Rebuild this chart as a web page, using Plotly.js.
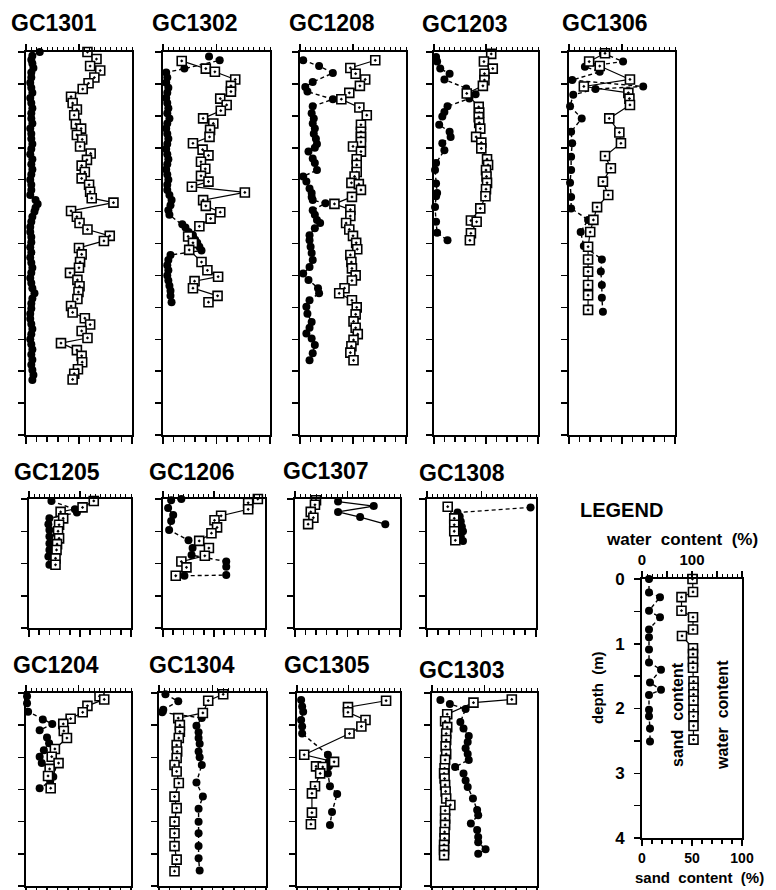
<!DOCTYPE html>
<html><head><meta charset="utf-8">
<script src="https://cdn.plot.ly/plotly-3.0.1.min.js"></script>
<style>html,body{margin:0;padding:0;background:#fff}#chart{width:776px;height:890px}</style>
</head><body><div id="chart"></div>
<script>
// ---- data: depth (m), water content (%), sand content (%) ----
const GC1301_wd=[0.00,0.11,0.22,0.29,0.40,0.49,0.58,0.70,0.80,0.90,0.99,1.13,1.20,1.30,1.37,1.48,1.59,1.69,1.78,1.88,1.98,2.08,2.19,2.29,2.36,2.49,2.58,2.68,2.78,2.88,2.96,3.07,3.17,3.29,3.38,3.46,3.57,3.67,3.76,3.87,3.98,4.08,4.17,4.27,4.37,4.48,4.56,4.67,4.76,4.86,4.97,5.04,5.13];
const GC1301_w=[116,133,121,140,129,118,107,85,88,96,91,94,104,96,106,102,122,115,105,111,105,119,121,124,165,85,96,101,116,158,147,100,105,102,100,83,97,101,99,97,85,88,111,121,105,116,66,96,105,106,98,91,88];
const GC1301_sd=[0.00,0.06,0.12,0.18,0.25,0.32,0.40,0.48,0.56,0.64,0.72,0.80,0.88,0.96,1.04,1.12,1.20,1.28,1.36,1.44,1.52,1.60,1.68,1.76,1.84,1.92,2.00,2.08,2.16,2.24,2.32,2.38,2.44,2.50,2.58,2.66,2.74,2.82,2.90,2.98,3.06,3.14,3.22,3.30,3.38,3.46,3.54,3.62,3.70,3.78,3.86,3.94,4.02,4.10,4.18,4.26,4.34,4.42,4.50,4.58,4.66,4.74,4.82,4.90,4.98,5.06,5.14];
const GC1301_s=[13,6,5,6,7,5,5,4,5,6,4,5,6,5,5,6,4,5,5,6,5,4,6,5,6,5,4,5,5,4,9,11,9,8,6,5,4,4,5,5,4,5,4,5,6,5,4,5,6,8,6,5,5,4,4,5,6,5,4,5,6,5,6,5,6,7,6];

const GC1302_wd=[0.14,0.26,0.31,0.43,0.53,0.62,0.73,0.83,0.92,1.04,1.12,1.22,1.33,1.43,1.53,1.62,1.72,1.83,1.94,2.03,2.11,2.20,2.32,2.41,2.51,2.61,2.73,2.89,2.99,3.10,3.29,3.42,3.52,3.59,3.70,3.82,3.92];
const GC1302_w=[35,80,97,135,127,127,107,119,108,75,94,88,87,56,74,85,71,79,71,85,54,153,75,80,107,89,68,47,56,49,72,83,103,59,56,102,85];
const GC1302_sd=[0.07,0.13,0.26,0.32,0.40,0.48,0.56,0.64,0.72,0.80,0.88,0.96,1.04,1.12,1.20,1.28,1.36,1.44,1.52,1.60,1.68,1.76,1.84,1.92,2.00,2.08,2.16,2.24,2.32,2.40,2.48,2.55,2.70,2.75,2.82,2.87,2.94,2.99,3.05,3.11,3.18,3.26,3.34,3.42,3.50,3.58,3.66,3.74,3.82,3.92];
const GC1302_s=[43,53,20,3,4,3,5,4,3,4,5,4,6,4,3,4,5,4,3,4,5,4,3,4,5,4,4,6,8,7,5,6,18,21,24,28,30,32,34,36,7,5,4,5,4,5,6,7,7,8];

const GC1208_wd=[0.13,0.25,0.34,0.43,0.53,0.64,0.74,0.87,0.99,1.14,1.25,1.33,1.41,1.48,1.56,1.68,1.77,1.88,1.95,2.05,2.07,2.16,2.27,2.38,2.47,2.57,2.68,2.78,2.88,2.99,3.09,3.18,3.29,3.39,3.50,3.58,3.70,3.78,3.89,4.00,4.11,4.22,4.32,4.42,4.51,4.61,4.71,4.83];
const GC1208_w=[142,95,105,123,113,93,78,112,126,115,115,115,115,100,115,107,107,107,103,97,111,115,98,65,95,95,87,93,100,106,108,95,97,98,105,98,84,74,98,107,105,101,105,109,101,97,95,101];
const GC1208_sd=[0.13,0.22,0.33,0.47,0.55,0.62,0.74,0.85,0.96,1.04,1.12,1.20,1.28,1.36,1.44,1.50,1.56,1.67,1.74,1.85,1.95,2.03,2.14,2.21,2.27,2.32,2.37,2.48,2.55,2.63,2.68,2.76,2.87,2.95,3.05,3.15,3.26,3.37,3.47,3.57,3.70,3.78,3.89,3.99,4.10,4.23,4.32,4.41,4.49,4.59,4.72,4.83];
const GC1208_s=[3,18,31,12,5,7,31,12,11,13,12,14,13,15,16,14,8,12,14,16,3,6,9,11,11,12,24,12,14,16,19,14,9,9,10,11,12,9,3,8,17,18,9,6,7,11,9,6,11,14,12,9];

const GC1203_wd=[0.03,0.15,0.26,0.34,0.44,0.53,0.65,0.86,0.95,1.02,1.11,1.20,1.33,1.42,1.51,1.68,1.77,1.85,1.95,2.05,2.15,2.26,2.45,2.64,2.66,2.84,2.95];
const GC1203_w=[110,96,113,97,97,94,63,86,87,86,87,89,81,91,91,102,104,100,101,102,100,99,89,71,82,71,69];
const GC1203_sd=[0.08,0.15,0.26,0.34,0.43,0.57,0.66,0.73,0.85,0.94,1.01,1.14,1.25,1.33,1.43,1.54,1.74,1.85,2.06,2.21,2.26,2.43,2.66,2.83,2.95];
const GC1203_s=[2,3,6,15,10,31,40,34,13,10,8,5,15,16,8,10,2,1,2,3,2,1,2,3,13];

const GC1306_wd=[0.02,0.15,0.22,0.43,0.54,0.64,0.73,0.83,1.04,1.26,1.43,1.63,1.82,2.03,2.24,2.43,2.63,2.82,3.05,3.25,3.44,3.65,3.81,4.04];
const GC1306_w=[68,38,58,115,28,112,114,115,76,95,98,68,79,64,74,53,46,40,36,36,36,36,36,36];
const GC1306_sd=[0.02,0.15,0.23,0.31,0.44,0.54,0.58,0.67,0.85,1.04,1.25,1.43,1.64,1.85,2.05,2.27,2.45,2.63,2.82,3.04,3.25,3.44,3.65,3.85,4.07];
const GC1306_s=[32,51,15,29,3,70,25,4,1,12,2,3,2,2,1,2,2,18,11,14,31,30,31,31,32];

const GC1205_wd=[0.03,0.13,0.20,0.30,0.40,0.50,0.61,0.70,0.79,0.92,1.02];
const GC1205_w=[127,105,62,67,59,57,59,55,54,52,52];
const GC1205_sd=[0.03,0.16,0.21,0.30,0.39,0.48,0.58,0.69,0.79,0.89,1.02];
const GC1205_s=[22,45,47,20,19,20,20,20,20,19,20];

const GC1206_wd=[0.00,0.06,0.16,0.26,0.33,0.44,0.53,0.65,0.76,0.88,0.97,1.06,1.19];
const GC1206_w=[186,167,167,114,101,106,95,71,90,82,36,46,25];
const GC1206_sd=[0.00,0.02,0.14,0.25,0.34,0.48,0.64,0.76,0.87,0.97,1.05,1.18,1.19];
const GC1206_s=[18,8,5,10,8,6,25,29,28,62,62,62,21];

const GC1307_wd=[0.02,0.09,0.20,0.29,0.39];
const GC1307_w=[40,38,30,35,25];
const GC1307_sd=[0.04,0.11,0.20,0.28,0.39];
const GC1307_s=[41,75,41,62,86];

const GC1308_wd=[0.12,0.30,0.40,0.50,0.64];
const GC1308_w=[38,50,50,50,52];
const GC1308_sd=[0.13,0.21,0.27,0.35,0.43,0.50,0.58,0.65];
const GC1308_s=[95,28,30,31,32,33,31,33];

const GC1204_wd=[0.05,0.10,0.20,0.30,0.40,0.48,0.59,0.70,0.87,0.99,1.09,1.18,1.29,1.48];
const GC1204_w=[140,149,117,108,85,71,72,78,55,49,62,45,42,47];
const GC1204_sd=[0.05,0.16,0.29,0.41,0.48,0.58,0.69,0.78,0.89,0.99,1.09,1.17,1.30,1.38,1.48];
const GC1204_s=[1,1,2,16,25,13,20,22,17,13,15,25,26,23,13];

const GC1304_wd=[0.02,0.12,0.31,0.39,0.50,0.60,0.70,0.81,0.91,1.01,1.12,1.22,1.40,1.61,1.79,2.00,2.18,2.38,2.59,2.77];
const GC1304_w=[120,92,82,36,39,39,37,33,34,33,29,33,37,29,33,29,29,29,33,29];
const GC1304_sd=[0.02,0.13,0.26,0.30,0.39,0.51,0.61,0.70,0.79,0.91,1.00,1.12,1.39,1.61,1.80,2.00,2.18,2.38,2.57,2.76];
const GC1304_s=[6,18,4,3,40,35,37,37,38,37,38,40,35,41,37,37,37,37,37,38];

const GC1305_wd=[0.12,0.22,0.30,0.42,0.52,0.63,0.96,1.07,1.14,1.15,1.25,1.45,1.56,1.86,2.04];
const GC1305_w=[173,99,99,133,125,102,14,72,37,50,45,35,29,29,27];
const GC1305_sd=[0.11,0.21,0.29,0.42,0.52,0.63,0.96,1.07,1.14,1.25,1.45,1.57,1.85,2.05];
const GC1305_s=[4,5,6,4,5,5,30,31,31,30,32,39,34,32];

const GC1303_wd=[0.10,0.15,0.33,0.44,0.53,0.63,0.73,0.83,0.95,1.04,1.17,1.25,1.33,1.43,1.53,1.64,1.74,1.83,1.95,2.05,2.16,2.26,2.36,2.44,2.52];
const GC1303_w=[152,79,29,25,29,27,27,26,27,25,24,23,24,25,26,27,35,25,25,25,24,24,23,23,23];
const GC1303_sd=[0.11,0.17,0.25,0.45,0.55,0.67,0.76,0.86,0.95,1.04,1.15,1.25,1.36,1.46,1.64,1.82,1.90,2.03,2.13,2.24,2.32,2.43,2.50];
const GC1303_s=[8,17,32,27,30,35,34,32,34,35,22,30,32,34,39,43,44,37,43,44,44,51,44];

const LEG_wd=[0,0.20,0.28,0.49,0.59,0.78,0.88,1.07,1.16,1.28,1.37,1.58,1.68,1.78,1.88,2.02,2.12,2.27,2.48];
const LEG_w=[101,102,79,79,102,102,80,102,102,102,102,103,103,103,103,103,103,103,103];
const LEG_sd=[0,0.21,0.28,0.49,0.59,0.78,0.90,1.09,1.29,1.40,1.60,1.71,1.79,2.02,2.12,2.31,2.51];
const LEG_s=[7,7,18,7,18,7,7,7,7,19,8,19,7,7,7,8,8];

const depthTickVals=[0,0.5,1,1.5,2,2.5,3,3.5,4,4.5,5,5.5,6];
const legDepthText=['0','','1','','2','','3','','4'];

// ---- panel placement (pixels) ----
const panels=[
 {name:'GC1301',wd:GC1301_wd,w:GC1301_w,sd:GC1301_sd,s:GC1301_s,x0:26,x1:132,y0:52,y1:435,dmax:6,tx:54,ty:23},
 {name:'GC1302',wd:GC1302_wd,w:GC1302_w,sd:GC1302_sd,s:GC1302_s,x0:163,x1:270,y0:52,y1:435,dmax:6,tx:195,ty:23},
 {name:'GC1208',wd:GC1208_wd,w:GC1208_w,sd:GC1208_sd,s:GC1208_s,x0:300,x1:406,y0:52,y1:435,dmax:6,tx:332,ty:23},
 {name:'GC1203',wd:GC1203_wd,w:GC1203_w,sd:GC1203_sd,s:GC1203_s,x0:434,x1:538,y0:52,y1:435,dmax:6,tx:465,ty:24},
 {name:'GC1306',wd:GC1306_wd,w:GC1306_w,sd:GC1306_sd,s:GC1306_s,x0:569,x1:675,y0:52,y1:435,dmax:6,tx:605,ty:23},
 {name:'GC1205',wd:GC1205_wd,w:GC1205_w,sd:GC1205_sd,s:GC1205_s,x0:29,x1:131,y0:499,y1:628,dmax:2,tx:57,ty:472},
 {name:'GC1206',wd:GC1206_wd,w:GC1206_w,sd:GC1206_sd,s:GC1206_s,x0:163,x1:265,y0:499,y1:628,dmax:2,tx:192,ty:472},
 {name:'GC1307',wd:GC1307_wd,w:GC1307_w,sd:GC1307_sd,s:GC1307_s,x0:295,x1:400,y0:499,y1:628,dmax:2,tx:326,ty:471,solidSand:true},
 {name:'GC1308',wd:GC1308_wd,w:GC1308_w,sd:GC1308_sd,s:GC1308_s,x0:427,x1:536,y0:499,y1:628,dmax:2,tx:462,ty:473},
 {name:'GC1204',wd:GC1204_wd,w:GC1204_w,sd:GC1204_sd,s:GC1204_s,x0:26,x1:131,y0:693,y1:886,dmax:3,tx:56,ty:665},
 {name:'GC1304',wd:GC1304_wd,w:GC1304_w,sd:GC1304_sd,s:GC1304_s,x0:159,x1:266,y0:693,y1:886,dmax:3,tx:192,ty:665},
 {name:'GC1305',wd:GC1305_wd,w:GC1305_w,sd:GC1305_sd,s:GC1305_s,x0:297,x1:400,y0:693,y1:886,dmax:3,tx:327,ty:665},
 {name:'GC1303',wd:GC1303_wd,w:GC1303_w,sd:GC1303_sd,s:GC1303_s,x0:432,x1:537,y0:693,y1:886,dmax:3,tx:462,ty:670},
 {name:'',wd:LEG_wd,w:LEG_w,sd:LEG_sd,s:LEG_s,x0:642,x1:742,y0:579,y1:838,dmax:4,legend:true}
];

const W=776,H=890;
const FONT='Liberation Sans, Arial, Helvetica, sans-serif';
const data=[];
const layout={width:W,height:H,margin:{l:0,r:0,t:0,b:0},showlegend:false,
  paper_bgcolor:'white',plot_bgcolor:'rgba(0,0,0,0)',
  font:{family:FONT,color:'black'},annotations:[]};

panels.forEach((p,i)=>{
  const xs=2*i+1,xw=2*i+2,yi=i+1;
  const xsN=xs===1?'x':'x'+xs, xwN='x'+xw, yN=yi===1?'y':'y'+yi;
  const xsK=xs===1?'xaxis':'xaxis'+xs, xwK='xaxis'+xw, yK=yi===1?'yaxis':'yaxis'+yi;
  const dom=[p.x0/W,p.x1/W], ydom=[1-p.y1/H,1-p.y0/H];
  const leg=!!p.legend;
  const common={showgrid:false,zeroline:false,showline:true,linecolor:'black',linewidth:2,
    ticks:'outside',tickcolor:'black',tickwidth:1.5,fixedrange:true};
  layout[xsK]=Object.assign({},common,{domain:dom,anchor:yN,side:'bottom',range:[0,100],
    tickmode:'array',tickvals:[0,50,100],ticktext:['0','50','100'],ticklen:leg?6:7,
    minor:{tickmode:'linear',tick0:0,dtick:10,ticklen:leg?4:5,tickwidth:1.5,tickcolor:'black',ticks:'outside'},
    showticklabels:leg,tickfont:{size:14,weight:'bold',family:FONT}});
  layout[xwK]=Object.assign({},common,{domain:dom,anchor:yN,overlaying:xsN,side:'top',range:[0,200],
    tickmode:'array',tickvals:[0,50,100,150,200],ticktext:['0','','100','',''],ticklen:6,
    minor:{tickmode:'linear',tick0:0,dtick:10,ticklen:3,tickwidth:1,tickcolor:'black',ticks:'outside'},
    showticklabels:leg,tickfont:{size:15,weight:'bold',family:FONT}});
  const tv=depthTickVals.filter(v=>v<=p.dmax);
  layout[yK]=Object.assign({},common,{domain:ydom,anchor:xsN,range:[p.dmax,0],mirror:true,
    tickmode:'array',tickvals:tv,ticktext:leg?legDepthText:tv.map(()=>''),ticklen:6,
    showticklabels:leg,ticklabelstandoff:6,tickfont:{size:17,weight:'bold',family:FONT}});

  data.push({type:'scatter',mode:'lines+markers',x:p.s,y:p.sd,xaxis:xsN,yaxis:yN,cliponaxis:false,
    line:{color:'black',width:1.4,dash:p.solidSand?'solid':'4px,3px'},
    marker:{symbol:'circle',size:8,color:'black'},hoverinfo:'skip'});
  data.push({type:'scatter',mode:'lines+markers',x:p.w,y:p.wd,xaxis:xwN,yaxis:yN,cliponaxis:false,
    line:{color:'black',width:1.2},
    marker:{symbol:'square-dot',size:9,color:'white',line:{color:'black',width:1.6}},hoverinfo:'skip'});

  if(p.name){
    layout.annotations.push({text:p.name,xref:'paper',yref:'paper',x:p.tx/W,y:1-p.ty/H,
      xanchor:'center',yanchor:'middle',showarrow:false,font:{size:23,weight:'bold',family:FONT}});
  }
});

function ann(text,x,y,size,opts){
  layout.annotations.push(Object.assign({text:text,xref:'paper',yref:'paper',x:x/W,y:1-y/H,
    xanchor:'center',yanchor:'middle',showarrow:false,font:{size:size,weight:'bold',family:FONT}},opts||{}));
}
ann('LEGEND',621,510,20);
ann('water  content  (%)',682,539,17);
ann('depth  (m)',597,688,15,{textangle:-90});
ann('sand  content',677,715,16,{textangle:-90});
ann('water  content',722,715,16,{textangle:-90});
ann('sand  content  (%)',699,877,15);

Plotly.newPlot('chart',data,layout,{staticPlot:true,displayModeBar:false});
</script></body></html>
